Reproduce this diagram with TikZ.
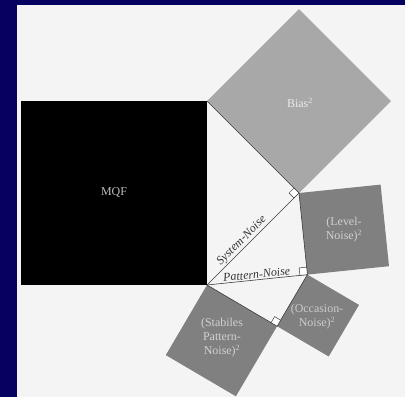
\documentclass[tikz,border=0pt]{standalone}
\usepackage{fontspec}
\setmainfont{Liberation Serif}
\usetikzlibrary{calc}
\definecolor{navyframe}{RGB}{6,0,96}
\definecolor{paper}{RGB}{244,244,244}
\definecolor{biasgray}{RGB}{168,168,168}
\definecolor{noisegray}{RGB}{128,128,128}
\definecolor{edgegray}{RGB}{60,60,60}
\begin{document}
\begin{tikzpicture}[x=1bp,y=-1bp,
  sqlabel/.style={font=\fontsize{12}{14}\selectfont, align=center, text=#1},
  edgelabel/.style={font=\fontsize{12}{14}\selectfont\itshape, text=black!80, sloped, above, inner sep=1.2pt},
  triedge/.style={draw=edgegray, line width=0.6pt},
  ramark/.style={draw=edgegray, line width=0.5pt, fill=white}]
\useasboundingbox (0,0) rectangle (405,397);
\fill[paper] (0,0) rectangle (405,397);
\fill[navyframe] (0,0) rectangle (405,5);
\fill[navyframe] (0,0) rectangle (17,397);
% points
\coordinate (A) at (207,101);
\coordinate (B) at (207,285);
\coordinate (C) at (299,193);
\coordinate (D) at (307.4,274.6);
\coordinate (E) at (277.1,326.2);
\coordinate (MQ) at (21,101);
\coordinate (MB) at (21,285);
\coordinate (A2) at (299,9);
\coordinate (C2) at (391,101);
\coordinate (C3) at (380.6,184.6);
\coordinate (D3) at (389.0,266.2);
\coordinate (B4) at (165.8,355.1);
\coordinate (E4) at (235.9,396.3);
\coordinate (D5) at (359.0,304.9);
\coordinate (E5) at (328.7,356.5);
% squares
\fill[black] (MQ) -- (A) -- (B) -- (MB) -- cycle;
\fill[biasgray] (A) -- (A2) -- (C2) -- (C) -- cycle;
\fill[noisegray] (C) -- (C3) -- (D3) -- (D) -- cycle;
\fill[noisegray] (B) -- (E) -- (E4) -- (B4) -- cycle;
\fill[noisegray] (D) -- (D5) -- (E5) -- (E) -- cycle;
% triangles
\draw[triedge] (A) -- (C) -- (B);
\draw[triedge] (C) -- (D) -- (B);
\draw[triedge] (D) -- (E) -- (B);
% right angle marks
\coordinate (ca) at ($(C)!7bp!(A)$);
\coordinate (cb) at ($(C)!7bp!(B)$);
\draw[ramark] (C) -- (ca) -- ($(ca)+(cb)-(C)$) -- (cb) -- cycle;
\coordinate (dc) at ($(D)!7.5bp!(C)$);
\coordinate (db) at ($(D)!7.5bp!(B)$);
\draw[ramark] (D) -- (dc) -- ($(dc)+(db)-(D)$) -- (db) -- cycle;
\coordinate (ed) at ($(E)!7bp!(D)$);
\coordinate (eb) at ($(E)!7bp!(B)$);
\draw[ramark] (E) -- (ed) -- ($(ed)+(eb)-(E)$) -- (eb) -- cycle;
% labels
\node[sqlabel=black!25] (mqf) at (114,193) {MQF};
\node[sqlabel=black!8] (bias) at (300,103) {Bias\textsuperscript{2}};
\node[sqlabel=black!18] (level) at (344,230) {(Level-\\Noise)\textsuperscript{2}};
\node[sqlabel=black!20] (occ) at (317,317) {(Occasion-\\Noise)\textsuperscript{2}};
\node[sqlabel=black!18] (stab) at (222,338) {(Stabiles\\Pattern-\\Noise)\textsuperscript{2}};
\path (B) -- (C) node[edgelabel, pos=0.43] (sysn) {System-Noise};
\path (B) -- (D) node[edgelabel, pos=0.5] (patn) {Pattern-Noise};
\end{tikzpicture}
\end{document}
